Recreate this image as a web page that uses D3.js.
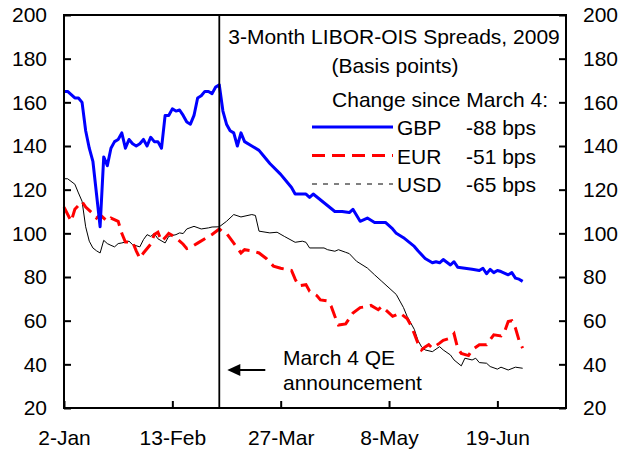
<!DOCTYPE html>
<html>
<head>
<meta charset="utf-8">
<script src="https://cdn.jsdelivr.net/npm/d3@7"></script>
<style>
  body { margin: 0; background: #fff; }
  svg text { font-family: "Liberation Sans", Arial, sans-serif; font-size: 21px; fill: #000; }
</style>
</head>
<body>
<svg id="chart" width="628" height="453"></svg>
<script>
(function() {
  'use strict';

  // x = business day index counted from 2-Jan-2009
  var tickDays = [0, 30, 60, 90, 120];
  var tickLabels = ['2-Jan', '13-Feb', '27-Mar', '8-May', '19-Jun'];
  var yTicks = [20, 40, 60, 80, 100, 120, 140, 160, 180, 200];
  var qeDay = 43; // March 4

  var gbp = [[0,165],[1,165],[3,162],[4,162],[5,160],[6,147],[7,139],[8,133],[10,103],[11,135],
    [12,131],[13,139],[14,142],[15,143],[16,146],[17,139],[18,143],[19,141],[20,140],[21,141],
    [22,143],[23,140],[24,144],[25,142],[26,142],[27,139],[28,154],[29,154],[30,157],[31,156],
    [32,156.5],[33,154],[34,151],[35,150],[36,154],[37,162],[38,163],[39,165],[40,165],[41,164],
    [42,167],[43,168],[44,156],[45,150],[46,147],[47,146],[48,140],[49,146],[50,142],[52,140],
    [54,138],[55,136],[57,132],[60,127],[61,125],[63,121],[64,118],[66,118],[67,118],[68,116.5],
    [69,118],[72,114],[75,110],[77,110],[79,109.5],[80,111],[82,105.5],[84,107],[86,105],[89,105],
    [91,102],[92,100],[94,98],[97,94],[98,92],[100,88.5],[102,86.5],[103,87],[104,86.5],[105,88],
    [107,85.5],[108,87],[109,84.5],[111,84],[113,83.5],[115,83],[116,84],[117,81.5],[118,83.5],
    [119,82],[120,83],[121,82.5],[123,81],[124,82],[125,79.5],[126,79],[127,78]];

  var eur = [[0,112],[2,105.5],[3,111],[5,114.5],[6,112],[8,109],[9,107],[10,108.5],[12,105.5],
    [13,107],[15,105.5],[16,100],[17,96],[18,96],[19,96],[20,92],[21,88.5],[22,91],[24,95],
    [25,99.5],[26,100.5],[27,96.5],[28,98],[29,100],[31,98],[33,95],[34,93],[35,93.5],[37,95.5],
    [39,97.5],[41,99.5],[43,102],[44,100.5],[45,100],[47,95.5],[49,91],[50,92.5],[52,92],[54,91],
    [56,88.5],[58,85],[60,84],[63,83],[64,79],[65,76],[67,76.5],[68,73.5],[70,71.5],[71,69.5],
    [73,69],[74,66.5],[75,62],[76,58],[78,58.5],[79,61],[80,63.5],[82,66],[84,66.5],[85,67],
    [87,65],[88,66.5],[89,65],[91,62],[92,62.7],[93,63.5],[95,61],[96,58],[97,54],[98,49.7],
    [99,46.6],[100,48],[101,49],[102,47.4],[104,49.7],[105,51],[107,52],[108,54],[109,47.4],
    [110,45],[112,44],[113,46.6],[115,49],[117,49],[119,53.5],[121,53],[122,55],[123,59.6],
    [124,60],[125,56.6],[126,51],[127,47.4]];

  var usd = [[0,125],[1,125],[3,122.5],[4,118.5],[5,114.7],[6,103],[7,96.4],[8,93.3],[9,92],
    [10,91],[11,96.8],[12,95.3],[13,94.5],[14,93.8],[15,95.3],[16,95.6],[18,96.4],[19,94.8],
    [21,93.8],[22,97.1],[23,99.4],[24,98.6],[25,99.9],[26,97.5],[28,95.6],[29,98.6],[31,99.4],
    [32,100.2],[33,99.9],[34,102],[36,103.2],[38,102],[40,102.5],[41,102.9],[43,103],[45,105.5],
    [47,108.6],[49,107.5],[52,108.6],[53,108.2],[54,101],[57,100.2],[59,100.5],[61,98.6],
    [64,95.9],[66,96.4],[67,95.9],[68,93.3],[72,93.3],[73,92.5],[75,91.8],[76,92.5],[78,91.3],
    [79,90.7],[81,87.2],[84,84.1],[86,81],[88,78],[90,75],[92,72],[93,69],[94,66],[95,62],
    [96,59],[97,56],[98,51],[99,48],[100,46.6],[102,45.8],[104,48.1],[105,46.6],[107,44.3],
    [108,42],[110,39.3],[111,42.8],[113,42],[114,42.8],[115,40.8],[117,40.5],[118,39],
    [120,37.8],[121,38.7],[123,37.4],[125,38.7],[127,38.2]];

  var legendRows = [
    { name: 'GBP', change: '-88 bps', color: '#0000ff', width: 3, dash: null },
    { name: 'EUR', change: '-51 bps', color: '#ff0000', width: 3, dash: '13,7' },
    { name: 'USD', change: '-65 bps', color: '#000000', width: 1, dash: '5,6' }
  ];

  var svg = d3.select('#chart');
  var left = 64, right = 566, top = 15, bottom = 408;

  var x = d3.scaleLinear().domain([0, 139]).range([left, right]);
  var y = d3.scaleLinear().domain([20, 200]).range([bottom, top]);

  var line = d3.line()
    .x(function(d) { return x(d[0]); })
    .y(function(d) { return y(d[1]); });

  // axes, ticks pointing inward
  var gl = svg.append('g').attr('transform', 'translate(' + left + ',0)')
    .call(d3.axisLeft(y).tickValues(yTicks).tickSize(-7).tickPadding(17));
  var gr = svg.append('g').attr('transform', 'translate(' + right + ',0)')
    .call(d3.axisRight(y).tickValues(yTicks).tickSize(-7).tickPadding(17));
  var gb = svg.append('g').attr('transform', 'translate(0,' + bottom + ')')
    .call(d3.axisBottom(x).tickValues(tickDays).tickSize(-7).tickPadding(22)
      .tickFormat(function(d, i) { return tickLabels[i]; }));

  [gl, gr, gb].forEach(function(g) {
    g.select('.domain').remove();
    g.selectAll('line').attr('stroke', '#000').attr('stroke-width', 2);
    g.attr('font-size', null).attr('font-family', null);
  });

  // series
  svg.append('path').datum(usd).attr('d', line)
    .attr('fill', 'none').attr('stroke', '#000').attr('stroke-width', 1);
  svg.append('path').datum(eur).attr('d', line)
    .attr('fill', 'none').attr('stroke', '#ff0000').attr('stroke-width', 3)
    .attr('stroke-dasharray', '13,7');
  svg.append('path').datum(gbp).attr('d', line)
    .attr('fill', 'none').attr('stroke', '#0000ff').attr('stroke-width', 3)
    .attr('stroke-linejoin', 'round');

  // frame
  svg.append('rect')
    .attr('x', left).attr('y', top)
    .attr('width', right - left).attr('height', bottom - top)
    .attr('fill', 'none').attr('stroke', '#000').attr('stroke-width', 2);

  // March 4 marker
  var qx = x(qeDay);
  svg.append('line')
    .attr('x1', qx).attr('x2', qx)
    .attr('y1', top).attr('y2', bottom)
    .attr('stroke', '#000').attr('stroke-width', 1.8);

  // arrow pointing back at the marker line
  var ay = 370, tip = qx + 8;
  svg.append('line')
    .attr('x1', tip + 10).attr('x2', tip + 38)
    .attr('y1', ay).attr('y2', ay)
    .attr('stroke', '#000').attr('stroke-width', 2);
  svg.append('path')
    .attr('d', 'M' + tip + ',' + ay + 'L' + (tip + 13) + ',' + (ay - 6) +
      'L' + (tip + 13) + ',' + (ay + 6) + 'Z')
    .attr('fill', '#000');

  svg.append('text').attr('x', 283).attr('y', 365).text('March 4 QE');
  svg.append('text').attr('x', 283).attr('y', 390).text('announcement');

  // title and legend
  svg.append('text').attr('x', 394).attr('y', 44).attr('text-anchor', 'middle')
    .text('3-Month LIBOR-OIS Spreads, 2009');
  svg.append('text').attr('x', 395).attr('y', 73).attr('text-anchor', 'middle')
    .text('(Basis points)');
  svg.append('text').attr('x', 548).attr('y', 107).attr('text-anchor', 'end')
    .text('Change since March 4:');

  var lg = svg.selectAll('.legend').data(legendRows).enter().append('g')
    .attr('class', 'legend')
    .attr('transform', function(d, i) { return 'translate(0,' + (127 + i * 28.5) + ')'; });

  lg.append('line')
    .attr('x1', 312).attr('x2', 393).attr('y1', 0).attr('y2', 0)
    .attr('stroke', function(d) { return d.color; })
    .attr('stroke-width', function(d) { return d.width; })
    .attr('stroke-dasharray', function(d) { return d.dash; });
  lg.append('text').attr('x', 397).attr('y', 8).text(function(d) { return d.name; });
  lg.append('text').attr('x', 466).attr('y', 8).text(function(d) { return d.change; });
})();
</script>
</body>
</html>
